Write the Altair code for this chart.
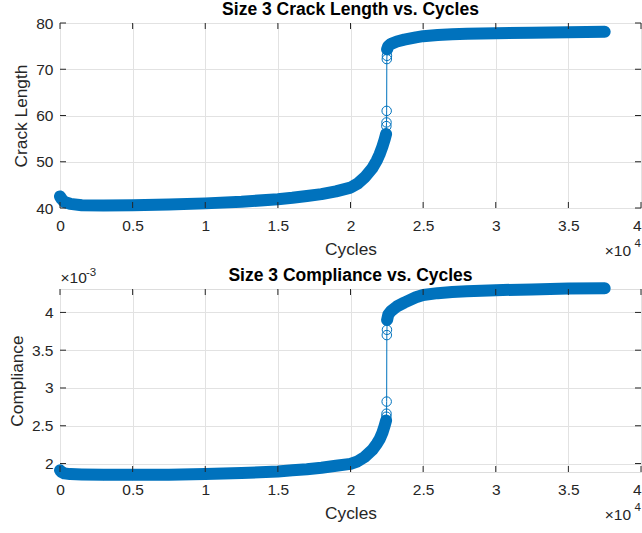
import altair as alt
import pandas as pd

# ---- data ----
cycles = [0, 100, 300, 700, 1500, 3000, 5000, 7500, 10000, 12500,
          15000, 16000, 17000, 18000, 19000, 20000, 20500, 21000, 21500, 21800,
          22000, 22200, 22350, 22450, 22470, 22480, 22490, 22500, 22510, 22520,
          22600, 22800, 23200, 23700, 24500, 25000, 26000, 27000, 28000, 30000,
          32500, 35000, 37500]
crack_length = [42.5, 42.0, 41.3, 40.9, 40.6, 40.55, 40.6, 40.75, 41.0, 41.35,
                41.9, 42.2, 42.6, 43.0, 43.6, 44.4, 45.3, 46.7, 48.6, 50.2,
                51.6, 53.3, 54.8, 56.0, 57.7, 58.5, 61.0, 72.2, 72.9, 74.3,
                75.0, 75.5, 76.0, 76.4, 76.9, 77.15, 77.4, 77.55, 77.65, 77.8,
                77.9, 78.0, 78.1]
compliance_e3 = [1.91, 1.89, 1.87, 1.86, 1.855, 1.85, 1.85, 1.853, 1.86, 1.875,
                 1.895, 1.91, 1.925, 1.945, 1.97, 1.995, 2.03, 2.09, 2.18, 2.26,
                 2.32, 2.41, 2.50, 2.57, 2.62, 2.66, 2.82, 3.70, 3.77, 3.90,
                 3.97, 4.02, 4.08, 4.13, 4.20, 4.23, 4.255, 4.27, 4.28, 4.295,
                 4.305, 4.315, 4.32]
jump_start, jump_end = 22450, 22520   # last dense point before / first after the jump

x_ticks = [0, 5000, 10000, 15000, 20000, 25000, 30000, 35000, 40000]
crack_ticks = [40, 50, 60, 70, 80]
comp_ticks = [2, 2.5, 3, 3.5, 4]

BLUE = "#0072BD"
TXT = "#262626"
FONT = "Liberation Sans"
W, H1, H2 = 581, 185, 183

df = pd.DataFrame({"cycles": cycles, "crack": crack_length, "comp": compliance_e3})
df["seg"] = ["lo" if c <= jump_start else ("hi" if c >= jump_end else "") for c in cycles]


def txt(s, x, y, size, align="left", weight="normal", color=TXT):
    return alt.Chart(pd.DataFrame({"t": [s]})).mark_text(
        align=align, baseline="alphabetic", font=FONT, fontSize=size,
        fontWeight=weight, color=color
    ).encode(x=alt.value(x), y=alt.value(y), text="t:N")


def panel(ycol, ytitle, ydom, yticks, H, title):
    xs = alt.Scale(domain=[0, 40000], nice=False, zero=False)
    ys = alt.Scale(domain=ydom, nice=False, zero=False)
    common = dict(grid=True, gridColor="#e2e2e2", ticks=False, tickSize=0, domain=False,
                  labelFontSize=15.5, labelFont=FONT, labelColor=TXT,
                  titleFont=FONT, titleFontSize=17.3, titleFontWeight="normal",
                  titleColor=TXT, labelFlush=False)
    x_axis = alt.Axis(values=x_ticks, labelExpr="'' + datum.value/10000", title="Cycles",
                      labelAlign={"condition": {"test": "datum.value >= 40000", "value": "right"},
                                  "value": "center"},
                      labelPadding=10, titlePadding=6.5, **common)
    y_axis = alt.Axis(values=yticks, labelExpr="'' + datum.value", title=ytitle,
                      labelPadding=7, titlePadding=5, **common)
    X = alt.X("cycles:Q", scale=xs, axis=x_axis)
    Y = alt.Y(f"{ycol}:Q", scale=ys, axis=y_axis)
    base = alt.Chart(df)
    band = base.transform_filter("datum.seg != ''").mark_line(
        color=BLUE, strokeWidth=12, strokeCap="round", strokeJoin="round"
    ).encode(x=X, y=Y, detail="seg:N")
    thin = base.mark_line(color=BLUE, strokeWidth=1).encode(x=X, y=Y)
    pts = base.mark_point(shape="circle", size=90, filled=False, color=BLUE,
                          strokeWidth=1, opacity=1).encode(x=X, y=Y)

    xt = pd.DataFrame({"cycles": x_ticks})
    yt = pd.DataFrame({ycol: yticks})
    tk = dict(color=TXT, strokeWidth=1)
    ticks = [
        alt.Chart(xt).mark_rule(**tk).encode(x=X, y=alt.value(0), y2=alt.value(6)),
        alt.Chart(xt).mark_rule(**tk).encode(x=X, y=alt.value(H - 6), y2=alt.value(H)),
        alt.Chart(yt).mark_rule(**tk).encode(y=Y, x=alt.value(0), x2=alt.value(6)),
        alt.Chart(yt).mark_rule(**tk).encode(y=Y, x=alt.value(W - 6), x2=alt.value(W)),
    ]
    anno = [
        txt("×10", W - 10, H + 47.7, 15.5, align="right"),
        txt("4", W - 6.5, H + 38.7, 11.5),
        txt(title, W / 2, -7.7, 17.5, align="center", weight="bold", color="#000000"),
    ]
    return [band, thin, pts] + ticks + anno


# invisible anchor fixing the page's top-left corner relative to the top plot
anchor = alt.Chart(pd.DataFrame({"a": [0]})).mark_rule(
    strokeOpacity=0, strokeWidth=1
).encode(x=alt.value(-59.5), x2=alt.value(-59.5), y=alt.value(-22.5), y2=alt.value(-22.5))

top = alt.layer(*panel("crack", "Crack Length", [40, 80], crack_ticks, H1,
                       "Size 3 Crack Length vs. Cycles"), anchor).properties(width=W, height=H1)

exp3 = [txt("×10", 0.5, -5.7, 15.5), txt("-3", 26, -13, 11.5)]
bottom = alt.layer(*panel("comp", "Compliance", [1.888, 4.31], comp_ticks, H2,
                          "Size 3 Compliance vs. Cycles"), *exp3).properties(width=W, height=H2)

chart = alt.vconcat(top, bottom, spacing=81, bounds="flush").properties(
    padding={"left": 0, "top": 0, "right": 0, "bottom": 0},
    background="white",
).configure_view(stroke=TXT, strokeWidth=1).configure(font=FONT)

chart.save("out.html", embed_options={"renderer": "svg", "actions": False})
